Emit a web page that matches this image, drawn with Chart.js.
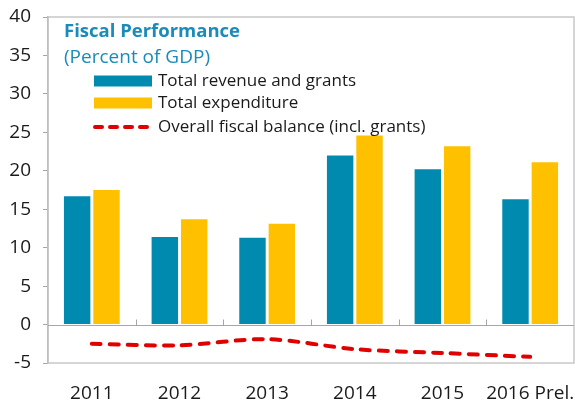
<!DOCTYPE html>
<html>
<head>
<meta charset="utf-8">
<script src="https://cdn.jsdelivr.net/npm/chart.js@4.4.1/dist/chart.umd.min.js"></script>
<style>
  html, body { margin: 0; padding: 0; background: #fff; }
  #wrap { width: 575px; height: 401px; }
</style>
</head>
<body>
<div id="wrap"><canvas id="canvas"></canvas></div>
<script>
let years = ["2011", "2012", "2013", "2014", "2015", "2016 Prel."];
let revenue = [16.7, 11.4, 11.3, 22.0, 20.2, 16.3];
let expenditure = [17.5, 13.7, 13.1, 24.6, 23.2, 21.1];
let balance = [-2.5, -2.7, -1.9, -3.2, -3.7, -4.2];
let yTicks = [40, 35, 30, 25, 20, 15, 10, 5, 0, -5];

let colorBlue = "#008AB0";
let colorYellow = "#FFC000";
let colorRed = "#E00000";
let colorTitle = "#1A8BBB";
let colorAxis = "#A6A6A6";
let fontFamily = "'Open Sans', 'Noto Sans', sans-serif";

// box, zero line and small category ticks
let framePlugin = {
    id: "frame",
    beforeDatasetsDraw(chart) {
        let {ctx, chartArea: a, scales: {x, y}} = chart;
        ctx.save();
        ctx.strokeStyle = "#C8C8C8";
        ctx.lineWidth = 1.5;
        ctx.strokeRect(a.left, a.top, a.right - a.left, a.bottom - a.top);
        let y0 = Math.round(y.getPixelForValue(0)) + 0.5;
        ctx.strokeStyle = colorAxis;
        ctx.lineWidth = 1;
        ctx.beginPath();
        ctx.moveTo(a.left, y0);
        ctx.lineTo(a.right, y0);
        for (let i = 1; i < years.length; i++) {
            let xp = Math.round((x.getPixelForValue(i - 1) + x.getPixelForValue(i)) / 2) + 0.5;
            ctx.moveTo(xp, y0);
            ctx.lineTo(xp, y0 - 6);
        }
        ctx.stroke();
        ctx.restore();
    }
};

// title and legend drawn inside the plot
let legendPlugin = {
    id: "innerLegend",
    afterDraw(chart) {
        let ctx = chart.ctx;
        ctx.save();
        ctx.textBaseline = "middle";
        ctx.fillStyle = colorTitle;
        ctx.font = "bold 18.5px " + fontFamily;
        ctx.fillText("Fiscal Performance", 64, 32);
        ctx.font = "19px " + fontFamily;
        ctx.fillText("(Percent of GDP)", 64, 58);

        ctx.font = "17px " + fontFamily;
        let rows = [81, 103, 127];
        chart.data.datasets.forEach((ds, i) => {
            let yy = rows[i];
            if (ds.type === "line") {
                ctx.strokeStyle = ds.borderColor;
                ctx.lineWidth = ds.borderWidth;
                ctx.lineCap = "round";
                ctx.setLineDash([7, 8]);
                ctx.beginPath();
                ctx.moveTo(95, yy);
                ctx.lineTo(152, yy);
                ctx.stroke();
                ctx.setLineDash([]);
            } else {
                ctx.fillStyle = ds.backgroundColor;
                ctx.fillRect(94, yy - 5.5, 58, 11);
            }
            ctx.fillStyle = "#1a1a1a";
            ctx.fillText(ds.label, 158, yy);
        });
        ctx.restore();
    }
};

new Chart(document.getElementById("canvas").getContext("2d"), {
    type: "bar",
    data: {
        labels: years,
        datasets: [{
            label: "Total revenue and grants",
            data: revenue,
            backgroundColor: colorBlue,
            categoryPercentage: 0.67,
            barPercentage: 0.9,
            order: 2
        }, {
            label: "Total expenditure",
            data: expenditure,
            backgroundColor: colorYellow,
            categoryPercentage: 0.67,
            barPercentage: 0.9,
            order: 2
        }, {
            type: "line",
            label: "Overall fiscal balance (incl. grants)",
            data: balance,
            borderColor: colorRed,
            borderWidth: 4,
            borderDash: [9, 9],
            borderCapStyle: "round",
            pointRadius: 0,
            tension: 0.3,
            order: 0
        }]
    },
    options: {
        responsive: true,
        maintainAspectRatio: false,
        animation: false,
        layout: {padding: {top: 17, right: 1, left: 0, bottom: 0}},
        plugins: {
            legend: {display: false},
            tooltip: {enabled: false}
        },
        scales: {
            x: {
                grid: {display: false, drawTicks: false},
                border: {display: false},
                ticks: {
                    color: "#1a1a1a",
                    font: {family: fontFamily, size: 19},
                    padding: 19,
                    maxRotation: 0,
                    autoSkip: false
                },
                afterFit: (s) => { s.height = 38; s.paddingLeft = 0; s.paddingRight = 0; }
            },
            y: {
                min: -5,
                max: 40,
                afterBuildTicks: (s) => { s.ticks = yTicks.map((v) => ({value: v})); },
                grid: {drawOnChartArea: false, tickLength: 5, color: colorAxis},
                border: {display: true, color: colorAxis, width: 1.5},
                ticks: {
                    color: "#1a1a1a",
                    font: {family: fontFamily, size: 19},
                    padding: 12
                },
                afterFit: (s) => { s.width = 48; s.paddingTop = 0; s.paddingBottom = 0; }
            }
        }
    },
    plugins: [framePlugin, legendPlugin]
});
</script>
</body>
</html>
